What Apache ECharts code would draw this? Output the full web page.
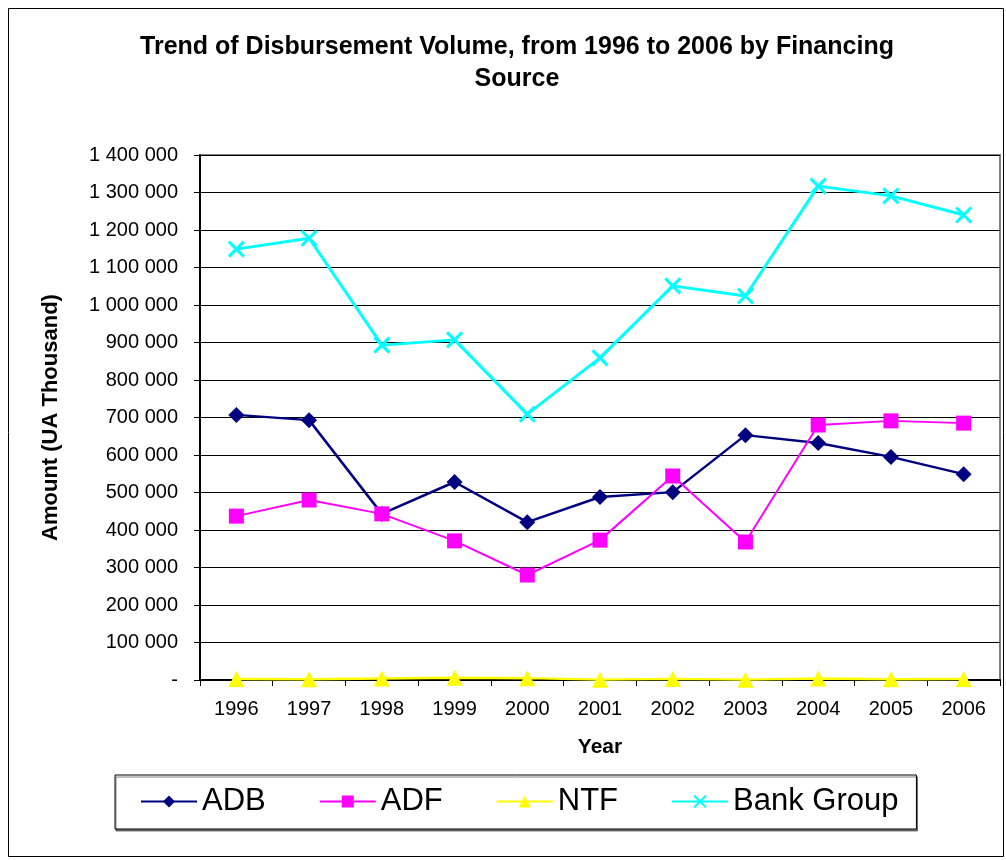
<!DOCTYPE html>
<html>
<head>
<meta charset="utf-8">
<script src="https://cdn.jsdelivr.net/npm/echarts@6/dist/echarts.min.js"></script>
<style>
  html, body { margin: 0; padding: 0; background: #fff; }
  #chart { width: 1006px; height: 860px; }
</style>
</head>
<body>
<div id="chart"></div>
<script>
// data (UA thousand)
const years = ['1996', '1997', '1998', '1999', '2000', '2001', '2002', '2003', '2004', '2005', '2006'];
const adb = [707000, 693000, 443000, 528000, 421000, 488000, 501000, 653000, 632000, 595000, 549000];
const adf = [437000, 480000, 443000, 371000, 280000, 373000, 544000, 368000, 680000, 691000, 685000];
const ntf = [3000, 2000, 4000, 6000, 5000, 1000, 3000, 1000, 4000, 2000, 3000];
const bankGroup = [1149000, 1178000, 893000, 907000, 709000, 859000, 1051000, 1024000, 1317000, 1291000, 1240000];

const seriesNames = ['ADB', 'ADF', 'NTF', 'Bank Group'];
const seriesColors = ['#000080', '#ff00ff', '#ffff00', '#00ffff'];

const font = '"Liberation Sans", Arial, sans-serif';

// 1 400 000 style labels, zero shown as "-"
function fmt(v) {
  if (v === 0) return '-';
  return String(v).replace(/\B(?=(\d{3})+(?!\d))/g, ' ');
}

const chart = echarts.init(document.getElementById('chart'));

const crossPath = 'path://M0,0L10,10M10,0L0,10';

const option = {
  backgroundColor: '#fff',
  animation: false,
  color: seriesColors,
  title: {
    text: 'Trend of Disbursement Volume, from 1996 to 2006 by Financing\nSource',
    left: 512,
    top: 26,
    textAlign: 'center',
    textStyle: {
      fontFamily: font,
      fontSize: 25,
      fontWeight: 'bold',
      color: '#000',
      lineHeight: 32,
    },
  },
  legend: {
    data: seriesNames,
    left: 115,
    top: 775,
    padding: [11, 18, 12, 25],
    itemGap: 53,
    itemWidth: 56,
    itemHeight: 15,
    borderColor: '#000',
    borderWidth: 1,
    backgroundColor: '#fff',
    shadowColor: 'rgba(0,0,0,0.5)',
    shadowOffsetX: 1,
    shadowOffsetY: 2,
    textStyle: {
      fontFamily: font,
      fontSize: 31,
      color: '#000',
    },
  },
  grid: {
    left: 200,
    right: 6,
    top: 155,
    bottom: 180,
    show: true,
    borderColor: '#808080',
    borderWidth: 2,
  },
  xAxis: {
    type: 'category',
    data: years,
    boundaryGap: true,
    name: 'Year',
    nameLocation: 'middle',
    nameGap: 57,
    nameTextStyle: {
      fontFamily: font,
      fontSize: 21,
      fontWeight: 'bold',
      color: '#000',
    },
    axisLine: { lineStyle: { color: '#000', width: 2 } },
    axisTick: { show: true, alignWithLabel: false, length: 6, lineStyle: { color: '#000' } },
    axisLabel: { fontFamily: font, fontSize: 20, color: '#000', margin: 19 },
  },
  yAxis: {
    type: 'value',
    min: 0,
    max: 1400000,
    interval: 100000,
    name: 'Amount (UA Thousand)',
    nameLocation: 'middle',
    nameRotate: 90,
    nameGap: 138,
    nameTextStyle: {
      fontFamily: font,
      fontSize: 22,
      fontWeight: 'bold',
      color: '#000',
    },
    axisLine: { show: true, lineStyle: { color: '#000', width: 2 } },
    axisTick: { show: true, length: 6, lineStyle: { color: '#000' } },
    axisLabel: {
      fontFamily: font,
      fontSize: 20,
      color: '#000',
      margin: 22,
      formatter: fmt,
    },
    splitLine: { show: true, lineStyle: { color: '#000', width: 1 } },
  },
  graphic: [
    {
      type: 'rect',
      shape: { x: 8.5, y: 8.5, width: 995, height: 848 },
      style: { fill: 'none', stroke: '#000', lineWidth: 1 },
      silent: true,
      z: -1,
    },
  ],
  series: [
    {
      name: 'ADB',
      type: 'line',
      data: adb,
      symbol: 'diamond',
      symbolSize: 16,
      lineStyle: { width: 2.5, color: seriesColors[0] },
      itemStyle: { color: seriesColors[0] },
    },
    {
      name: 'ADF',
      type: 'line',
      data: adf,
      symbol: 'rect',
      symbolSize: 15,
      lineStyle: { width: 2, color: seriesColors[1] },
      itemStyle: { color: seriesColors[1] },
    },
    {
      name: 'NTF',
      type: 'line',
      data: ntf,
      symbol: 'triangle',
      symbolSize: 16,
      lineStyle: { width: 2.5, color: seriesColors[2] },
      itemStyle: { color: seriesColors[2] },
    },
    {
      name: 'Bank Group',
      type: 'line',
      data: bankGroup,
      symbol: crossPath,
      symbolSize: 15,
      lineStyle: { width: 3, color: seriesColors[3] },
      itemStyle: { color: 'none', borderColor: seriesColors[3], borderWidth: 3 },
    },
  ],
};

chart.setOption(option);
</script>
</body>
</html>
